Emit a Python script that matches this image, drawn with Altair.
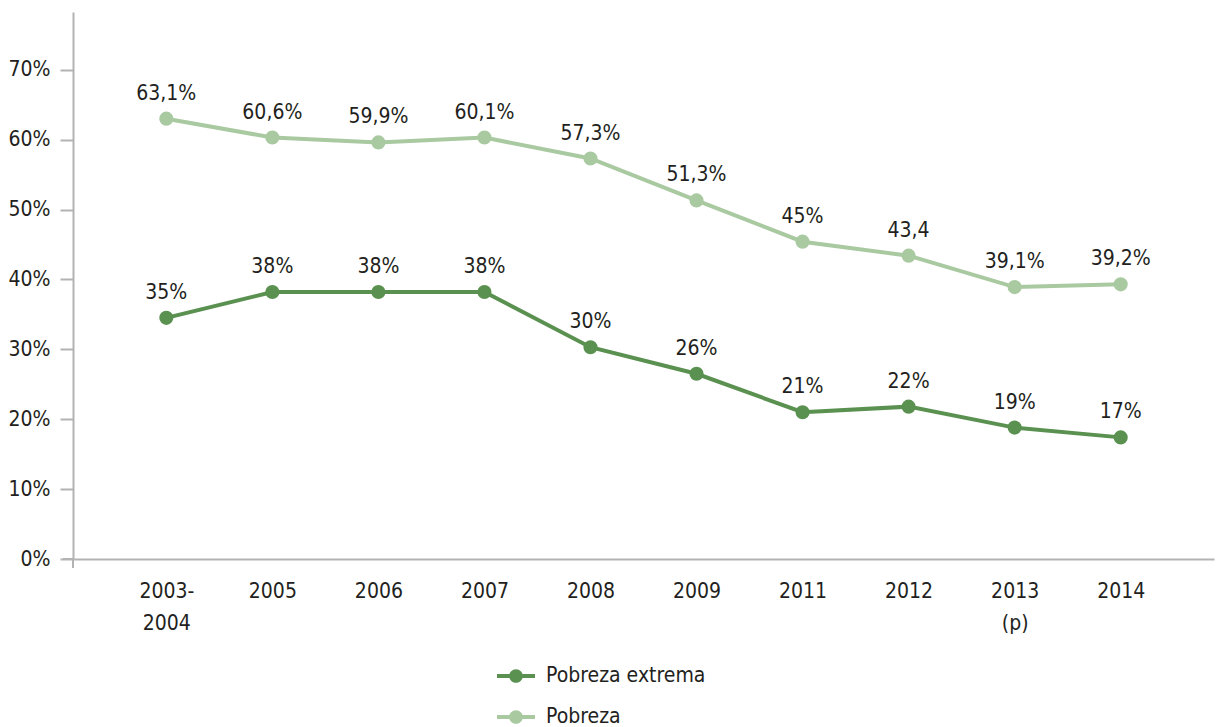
import altair as alt
import pandas as pd

categories = ["2003-|2004", "2005", "2006", "2007", "2008", "2009", "2011", "2012", "2013|(p)", "2014"]
pobreza = [0.630, 0.603, 0.596, 0.603, 0.573, 0.513, 0.454, 0.434, 0.389, 0.393]
pobreza_labels = ["63,1%", "60,6%", "59,9%", "60,1%", "57,3%", "51,3%", "45%", "43,4", "39,1%", "39,2%"]
extrema = [0.345, 0.382, 0.382, 0.382, 0.303, 0.265, 0.210, 0.218, 0.188, 0.174]
extrema_labels = ["35%", "38%", "38%", "38%", "30%", "26%", "21%", "22%", "19%", "17%"]
series_names = ["Pobreza extrema", "Pobreza"]
colors = ["#5a9150", "#a9c9a1"]

rows = []
for c, v, l in zip(categories, extrema, extrema_labels):
    rows.append({"cat": c, "value": v, "label": l, "serie": series_names[0]})
for c, v, l in zip(categories, pobreza, pobreza_labels):
    rows.append({"cat": c, "value": v, "label": l, "serie": series_names[1]})
df = pd.DataFrame(rows)

FONT = "Liberation Sans Narrow, DejaVu Sans Condensed, Roboto"
TXT = "#231f20"
GRID = "#b3b3b3"

# legend symbol: line with a dot in the middle (all filled subpaths, same winding)
LEG_SYMBOL = ("M-1,-0.1H-0.3V0.1H-1Z "
              "M0.3,-0.1H1V0.1H0.3Z "
              "M0.36,0A0.36,0.36 0 1,1 -0.36,0A0.36,0.36 0 1,1 0.36,0Z")

x = alt.X("cat:N", sort=categories, title=None,
          scale=alt.Scale(type="point", padding=0.88),
          axis=alt.Axis(labelExpr="split(datum.value, '|')", labelAngle=0, ticks=False,
                        labelFontSize=21, labelColor=TXT, labelFont=FONT, labelPadding=21,
                        labelLineHeight=32, labelBaseline="top",
                        domainColor=GRID, domainWidth=2))
y = alt.Y("value:Q", title=None,
          scale=alt.Scale(domain=[0, 0.7826], nice=False),
          axis=alt.Axis(values=[0, 0.1, 0.2, 0.3, 0.4, 0.5, 0.6, 0.7], format=".0%", grid=False,
                        tickSize=13, tickColor=GRID, tickWidth=2, domainColor=GRID, domainWidth=2,
                        labelFontSize=21, labelColor=TXT, labelFont=FONT, labelPadding=10))
color = alt.Color("serie:N", scale=alt.Scale(domain=series_names, range=colors),
                  legend=alt.Legend(title=None, orient="none", legendX=424, legendY=645,
                                    labelFontSize=21, labelFont=FONT, labelColor=TXT,
                                    symbolType=LEG_SYMBOL, symbolSize=1444, symbolStrokeWidth=0,
                                    rowPadding=12, labelOffset=11))

base = alt.Chart(df)
lines = base.mark_line(strokeWidth=4, point=alt.OverlayMarkDef(size=200, filled=True, opacity=1)).encode(
    x=x, y=y, color=color)
labels = base.mark_text(fontSize=21, font=FONT, color=TXT, baseline="alphabetic", dy=-19).encode(
    x=x, y=y, text="label:N")

ext = pd.DataFrame({"k": [0]})
yext = alt.Chart(ext).mark_rule(color=GRID, strokeWidth=2).encode(
    x=alt.value(0), y=alt.value(547), y2=alt.value(556))
xext = alt.Chart(ext).mark_rule(color=GRID, strokeWidth=2).encode(
    x=alt.value(-10), x2=alt.value(0), y=alt.value(547))

chart = alt.layer(lines, labels, yext, xext).properties(
    width=1141, height=547,
    padding={"left": 73, "top": 12, "right": 2, "bottom": 168},
    autosize=alt.AutoSizeParams(type="none"),
    background="white",
).configure_view(stroke=None)

chart.save("out.html", embed_options={"renderer": "svg", "actions": False})
